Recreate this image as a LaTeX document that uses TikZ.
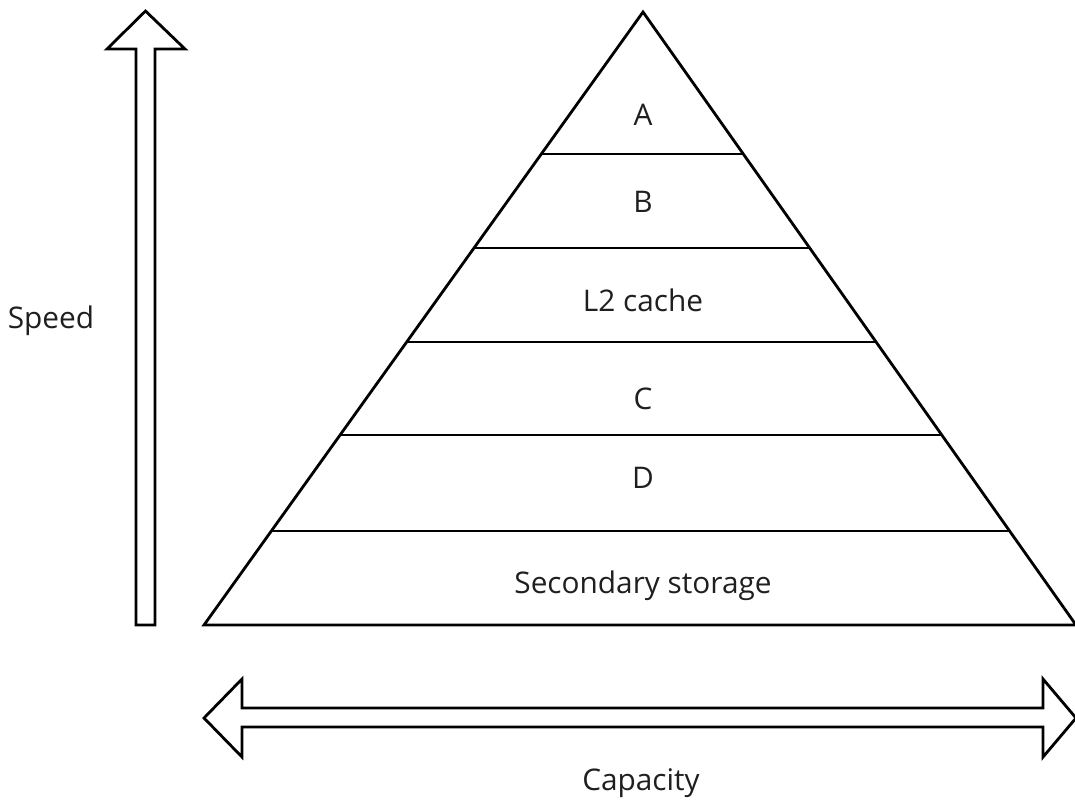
\documentclass[tikz,border=0pt]{standalone}
\usepackage{fontspec}
\setmainfont{Open Sans}
\usetikzlibrary{calc}

\begin{document}
\begin{tikzpicture}[x=0.5pt, y=-0.5pt, line width=1.4pt, line join=miter, every node/.style={inner sep=0pt, anchor=base, text=black!88, font=\fontsize{14.9}{18}\selectfont}]
	\useasboundingbox (0,0) rectangle (1075,799);
	\coordinate (apex) at (643,12);
	\coordinate (baseL) at (204,625);
	\coordinate (baseR) at (1076,625);
	\draw (apex) -- (baseL) -- (baseR) -- cycle;
	\foreach \y in {154,248,342,435,531}
		\draw ($(apex)!{(\y-12)/613}!(baseL)$) -- ($(apex)!{(\y-12)/613}!(baseR)$);
	\node (a) at (643,125) {A};
	\node (b) at (643,212) {B};
	\node (ltwo) at (643,311) {L2 cache};
	\node (c) at (643,409) {C};
	\node (d) at (643,488) {D};
	\node (sec) at (643,593) {Secondary storage};
	% speed arrow
	\draw (145.5,11) -- (185,49) -- (155,49) -- (155,625) -- (136,625) -- (136,49) -- (107,49) -- cycle;
	\node (speed) at (51,328) {Speed};
	% capacity arrow
	\draw (204,718) -- (242,679) -- (242,708) -- (1043,708) -- (1043,679) -- (1076,718) -- (1043,757) -- (1043,727) -- (242,727) -- (242,757) -- cycle;
	\node (capacity) at (641,790) {Capacity};
\end{tikzpicture}
\end{document}
